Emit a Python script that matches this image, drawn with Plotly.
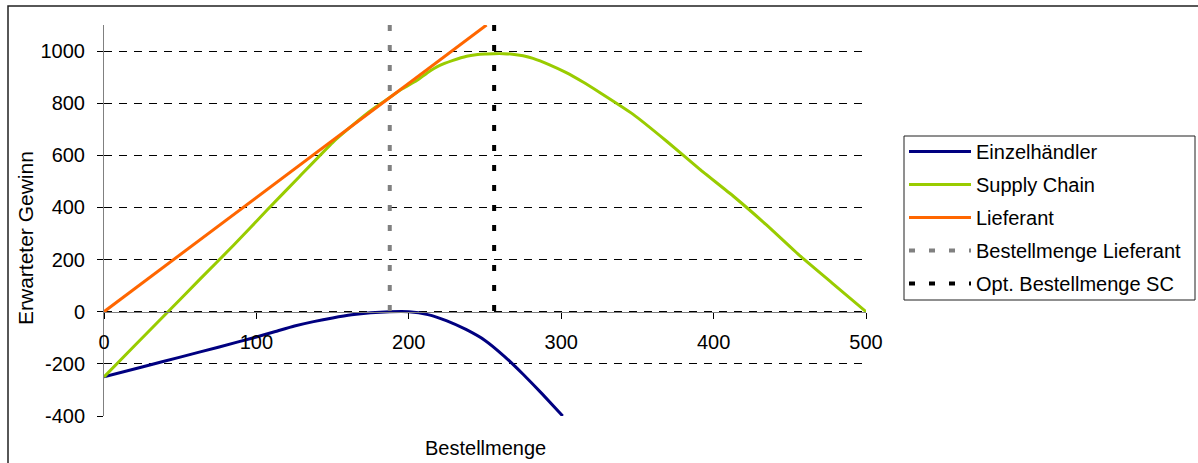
import plotly.graph_objects as go

# ---- data ----
q_retailer = [0, 25, 50, 75, 100, 112.5, 125, 137.5, 150, 162.5, 175, 187.5, 200,
              212.5, 225, 237.5, 250, 262.5, 275, 287.5, 301]
v_retailer = [-250, -212, -174, -136, -97, -76, -55, -38, -24, -12, -4, 0, 0,
              -11, -35, -68, -110, -170, -240, -315, -400]

q_sc = [0, 21, 42, 63, 85, 107, 128.5, 150, 161, 172, 180, 187.5, 196, 205, 212, 220,
        229, 238, 244, 250, 256, 262, 268, 275, 281.5, 292, 303, 314, 325, 347, 369,
        391, 413, 434.5, 456, 478, 500]
v_sc = [-250, -125, 0, 125, 255, 390, 520, 649, 705, 758, 792, 822, 856, 886, 916, 944,
        964, 980, 986, 989, 990, 990, 988, 982, 972, 948, 918, 882, 842, 758, 655,
        546, 443, 334, 218, 109, 0]

q_supplier = [0, 50, 100, 150, 200, 250, 251]
v_supplier = [0, 219, 438, 657, 876, 1095, 1100]

q_best_lief = [187.5, 187.5]
v_best_lief = [1100, 0]
q_opt_sc = [256, 256]
v_opt_sc = [1100, 0]

names = ["Einzelhändler", "Supply Chain", "Lieferant",
         "Bestellmenge Lieferant", "Opt. Bestellmenge SC"]
y_ticks = [-400, -200, 0, 200, 400, 600, 800, 1000]
y_ticktext = ["-400", "-200", "0", "200", "400", "600", "800", "1000"]
x_ticks = [0, 100, 200, 300, 400, 500]

FONT = "Liberation Sans, Arial, sans-serif"
FS = 20

fig = go.Figure()
fig.add_trace(go.Scatter(x=q_retailer, y=v_retailer, mode="lines", name=names[0],
                         legendgroup="a", line=dict(color="#000080", width=3, shape="spline", smoothing=0.4)))
fig.add_trace(go.Scatter(x=q_sc, y=v_sc, mode="lines", name=names[1],
                         legendgroup="b", line=dict(color="#99CC00", width=3, shape="spline", smoothing=0.4)))
fig.add_trace(go.Scatter(x=q_supplier, y=v_supplier, mode="lines", name=names[2],
                         legendgroup="c", line=dict(color="#FF6600", width=3)))
fig.add_trace(go.Scatter(x=q_best_lief, y=v_best_lief, mode="lines", name=names[3],
                         legendgroup="d", line=dict(color="#808080", width=4, dash="6px,14px")))
fig.add_trace(go.Scatter(x=q_opt_sc, y=v_opt_sc, mode="lines", name=names[4],
                         legendgroup="e", line=dict(color="#000000", width=4, dash="6px,14px")))

W, H = 1198, 463
L, R, T, B = 104, 1198 - 866, 25, 463 - 416
pw, ph = W - L - R, H - T - B

def px_x(p):
    return (p - L) / pw

def px_y(p):
    return (H - B - p) / ph

fig.update_layout(
    width=W, height=H,
    margin=dict(l=L, r=R, t=T, b=B, pad=0, autoexpand=False),
    paper_bgcolor="white", plot_bgcolor="white",
    font=dict(family=FONT, size=FS, color="black"),
    showlegend=True,
    legend=dict(x=px_x(904), xanchor="left", y=px_y(132), yanchor="top",
                bgcolor="rgba(0,0,0,0)", borderwidth=0,
                font=dict(family=FONT, size=FS, color="black"),
                tracegroupgap=4, itemwidth=62),
    xaxis=dict(range=[0, 500], tickvals=x_ticks, showgrid=False, zeroline=False,
               showline=True, linecolor="#808080", linewidth=1,
               ticks="outside", ticklen=6, tickcolor="black",
               anchor="free", position=(416 - 311.7) / ph,
               ticklabelstandoff=6,
               tickfont=dict(family=FONT, size=FS, color="black")),
    yaxis=dict(range=[-400, 1100], tickvals=y_ticks, ticktext=y_ticktext, showgrid=True,
               gridcolor="black", gridwidth=1, griddash="8px,7px",
               zeroline=False, showline=True, linecolor="#808080", linewidth=1,
               ticks="outside", ticklen=6, tickcolor="black",
               ticklabelstandoff=8,
               tickfont=dict(family=FONT, size=FS, color="black")),
    annotations=[
        dict(text="Bestellmenge", xref="paper", yref="paper", x=0.5,
             y=px_y(448), xanchor="center", yanchor="middle",
             showarrow=False, font=dict(family=FONT, size=FS, color="black")),
        dict(text="Erwarteter Gewinn", xref="paper", yref="paper",
             x=px_x(26), y=px_y(238), xanchor="center", yanchor="middle",
             textangle=-90, showarrow=False,
             font=dict(family=FONT, size=21, color="black")),
    ],
    shapes=[
        # chart area border
        dict(type="rect", xref="paper", yref="paper",
             x0=px_x(8), x1=px_x(1250), y0=px_y(520), y1=px_y(6),
             line=dict(color="#202020", width=1.5), fillcolor="rgba(0,0,0,0)", layer="below"),
        # legend frame
        dict(type="rect", xref="paper", yref="paper",
             x0=px_x(904), x1=px_x(1195), y0=px_y(300), y1=px_y(136),
             line=dict(color="#202020", width=1), fillcolor="white", layer="below"),
    ],
)

fig.write_html("out.html")
